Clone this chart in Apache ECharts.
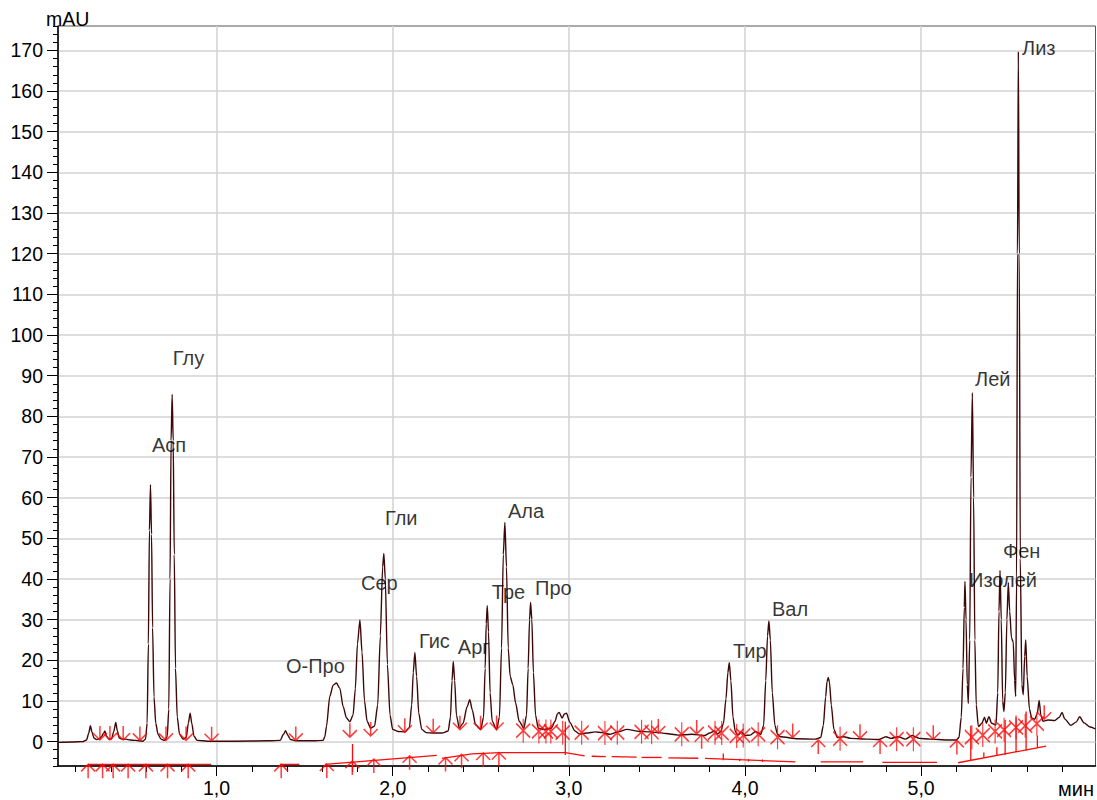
<!DOCTYPE html>
<html>
<head>
<meta charset="utf-8">
<script src="https://cdn.jsdelivr.net/npm/echarts@6/dist/echarts.min.js"></script>
<style>
  html, body { margin: 0; padding: 0; background: #fff; }
  #chart { width: 1097px; height: 800px; }
</style>
</head>
<body>
<div id="chart"></div>
<script>
// Детектор, мAU, по времени удерживания (мин)
const trace = [
  [0.10,-0.2],[0.18,-0.1],[0.24,0.0],[0.262,0.4],[0.274,2.0],[0.284,3.9],[0.293,2.3],[0.304,0.9],[0.318,0.5],
  [0.335,0.7],[0.347,1.2],[0.358,2.0],[0.366,2.6],[0.375,1.4],[0.388,0.6],
  [0.404,0.7],[0.416,2.4],[0.428,4.7],[0.437,2.6],[0.448,0.9],[0.465,0.6],[0.485,0.6],[0.51,0.4],[0.54,0.3],[0.58,0.1],
  [0.597,0.6],[0.606,4.5],[0.613,24],[0.619,52],[0.625,63.2],[0.631,51],[0.637,28],[0.645,11],[0.655,4.5],[0.668,1.8],[0.685,0.6],[0.705,0.3],
  [0.72,1.2],[0.729,8],[0.736,40],[0.742,74],[0.748,85.4],[0.754,74],[0.760,46],[0.767,18],[0.777,6],[0.79,1.8],[0.81,0.6],
  [0.828,1.0],[0.84,4.5],[0.85,7.0],[0.86,4.4],[0.872,1.3],[0.89,0.3],[0.95,0.1],[1.1,0.1],[1.3,0.2],
  [1.362,0.3],[1.38,1.8],[1.392,2.7],[1.405,1.5],[1.42,0.5],[1.45,0.2],[1.55,0.2],[1.605,0.3],
  [1.615,1.2],[1.624,3.7],[1.643,11.1],[1.662,13.9],[1.681,14.4],[1.70,13.1],[1.719,8.6],[1.738,5.8],[1.757,4.9],
  [1.775,6.5],[1.788,13],[1.80,24],[1.814,29.9],[1.826,22],[1.84,10],[1.855,5],[1.875,3.3],
  [1.897,3.8],[1.915,9],[1.93,26],[1.943,43],[1.95,46.3],[1.958,40],[1.97,19],[1.985,6.5],[2.0,3.0],[2.03,2.5],[2.07,2.4],[2.095,3.5],
  [2.108,9],[2.117,17],[2.126,21.9],[2.136,16],[2.148,7],[2.165,3],[2.19,2.2],[2.23,2.1],[2.28,2.1],[2.315,2.6],
  [2.328,6],[2.337,15],[2.344,19.7],[2.352,15],[2.362,6.5],[2.378,3.3],
  [2.40,4.5],[2.422,8.5],[2.438,10.3],[2.452,7.8],[2.47,4.2],[2.50,3.0],
  [2.516,6],[2.525,18],[2.531,29],[2.537,33.4],[2.544,27],[2.553,12],[2.565,5],[2.59,2.9],
  [2.606,6],[2.618,23],[2.628,46],[2.637,53.9],[2.646,43],[2.656,23],[2.667,16],[2.682,14],[2.698,9.5],[2.718,5],[2.745,3.3],
  [2.76,6.5],[2.769,18],[2.777,30],[2.783,34.2],[2.79,30],[2.799,17],[2.811,6.5],[2.826,3.3],[2.86,3.0],[2.90,3.3],
  [2.922,5],[2.935,6.8],[2.945,7.2],[2.962,5.8],[2.975,6.8],[2.987,7.0],[3.005,4.8],[3.035,2.6],[3.06,1.9],
  [3.10,2.1],[3.15,2.4],[3.19,2.2],[3.23,1.8],[3.28,2.4],[3.33,3.0],[3.40,2.5],[3.46,2.4],[3.55,2.0],[3.62,1.6],[3.70,1.8],[3.77,1.5],[3.80,2.1],[3.825,2.6],[3.845,1.9],[3.862,2.5],
  [3.878,4.5],[3.892,10.5],[3.903,17],[3.911,19.4],[3.92,15],[3.932,6],[3.945,2.5],[3.96,1.6],[3.98,2.4],[4.0,1.5],[4.03,1.6],[4.06,2.5],[4.09,1.8],
  [4.106,4],[4.118,15],[4.128,26],[4.136,29.7],[4.144,25],[4.155,12],[4.17,4],[4.185,1.8],[4.20,1.2],[4.30,0.7],[4.40,0.6],[4.43,1.0],
  [4.445,4],[4.458,11],[4.466,14.8],[4.473,15.8],[4.48,14.5],[4.49,9],[4.505,3],[4.525,1.0],[4.56,1.2],[4.60,0.8],[4.70,0.6],[4.76,0.5],[4.80,1.2],[4.83,0.8],[4.87,1.2],[4.91,0.6],[4.95,1.5],[4.99,0.8],[5.05,0.6],[5.15,0.4],[5.20,0.4],
  [5.215,1.0],[5.228,6],[5.238,18],[5.245,33],[5.249,39.4],[5.255,30],[5.262,14],[5.268,9.4],[5.276,25],[5.283,65],[5.291,85.8],[5.298,60],[5.305,25],[5.313,9],[5.325,3.7],
  [5.345,4.5],[5.36,6.0],[5.37,4.5],[5.385,6.1],[5.40,4.5],[5.425,4.1],[5.435,12],[5.442,32],[5.448,42.1],[5.455,30],[5.463,10],[5.47,7.4],
  [5.478,12],[5.487,30],[5.495,39.1],[5.503,32],[5.513,25.5],[5.523,24.5],[5.531,15],[5.537,11.1],
  [5.542,40],[5.547,120],[5.552,169.7],[5.557,120],[5.563,45],[5.572,14],[5.58,11.5],[5.588,21],[5.594,25],[5.602,16],[5.615,8],[5.628,5.8],
  [5.645,5.5],[5.66,7],[5.67,10.1],[5.68,6.5],[5.692,5.0],[5.72,5.3],[5.76,5.2],[5.785,6],[5.80,7.2],[5.815,5.6],[5.85,4.0],[5.88,4.8],[5.90,6.1],[5.925,4.6],[5.96,3.6],[5.99,3.1]
];

// Подписи пиков: название, время (мин) и уровень (мAU) начала подписи
const peakNames  = ['Асп','Глу','О-Про','Сер','Гли','Гис','Арг','Тре','Ала','Про','Тир','Вал','Изолей','Лей','Фен','Лиз'];
const labelTimes = [0.633,0.752,1.394,1.820,1.956,2.149,2.370,2.563,2.654,2.808,3.932,4.153,5.272,5.306,5.465,5.573];
const labelLevels= [72.9,94.3,18.6,39.0,55.0,24.7,23.3,36.8,56.6,37.8,22.3,32.6,39.7,89.1,46.9,170.7];

// Метки интегрирования на хроматограмме
const startEndMarks = [[0.338,0.4],[0.395,0.4],[0.47,0.4],[0.565,0.3],[0.713,0.3],[0.827,0.3],[0.972,0.2],[1.450,0.3],[1.757,1.1],[1.875,1.4],[2.069,2.3],[2.230,2.2],[2.382,2.9],[2.499,2.9],[2.590,3.0],[3.508,2.1],[3.726,1.9],[4.271,1.0],[4.653,0.8],[5.069,0.6],[5.699,5.5]];
const riseMarks = [[3.754,1.7],[4.416,0.4],[4.767,0.4],[5.203,0.3]];
const splitMarks = [[2.741,2.7],[2.830,2.5],[2.870,2.5],[2.898,2.5],[2.965,2.2],[3.073,2.2],[3.205,2.1],[3.275,2.2],[3.413,2.4],[3.470,2.3],[3.641,1.8],[3.830,2.2],[3.868,2.1],[3.953,1.4],[3.990,1.5],[4.075,1.8],[4.185,1.1],[4.540,0.7],[4.861,0.6],[4.956,0.6],[5.288,1.1],[5.35,1.6],[5.42,2.5],[5.471,2.9],[5.539,3.5],[5.591,3.9],[5.657,4.4]];
const baselineMarks = [[0.271,-5.6],[0.353,-5.6],[0.413,-5.6],[0.498,-5.6],[0.599,-5.6],[0.722,-5.6],[0.839,-5.6],[1.367,-5.6],[1.626,-5.5],[1.771,-4.8],[1.893,-4.3],[2.096,-3.5],[2.30,-3.9],[2.391,-3.1],[2.514,-2.8],[2.603,-2.7]];

// Базовые линии: [t1, y1, t2, y2]
const baselines = [
  [0.27,-5.6,0.97,-5.6],[1.36,-5.6,1.47,-5.6],[1.615,-5.6,2.25,-3.4],
  [2.28,-4.1,2.45,-3.0],[2.45,-3.0,2.61,-2.7],[2.61,-2.7,2.98,-2.7],[2.98,-2.7,3.09,-3.5],
  [3.13,-3.6,3.21,-3.7],[3.243,-3.7,3.385,-3.8],[3.413,-3.9,3.527,-3.9],[3.565,-4.0,3.735,-4.1],[3.773,-4.1,4.286,-5.0],
  [4.43,-5.0,4.67,-5.0],[4.78,-5.1,5.09,-5.1],[5.21,-5.2,5.71,-1.1]
];
// Вертикальные линии разделения: [t, от, до]
const dropLines = [[1.772,-7.5,-0.6],[2.98,-3.3,4.9],[3.877,-4.6,-2.9],[3.97,-4.8,-4.2],[4.02,-4.9,-4.3],[4.10,-5.0,-4.4],
  [5.282,-4.5,3.9],[5.356,-3.9,-2.7],[5.43,-3.5,-1.4],[5.477,-3.3,5.3],[5.539,-2.6,6.0],[5.596,-2.2,7.4],[5.66,-1.6,1.5]];

// Оси
const yMajorTicks = [0,10,20,30,40,50,60,70,80,90,100,110,120,130,140,150,160,170];
const xMajorTicks = [1,2,3,4,5];
const xMinorTicks = [0.2,0.4,0.6,0.8,1.0,1.2,1.4,1.6,1.8,2.0,2.2,2.4,2.6,2.8,3.0,3.2,3.4,3.6,3.8,4.0,4.2,4.4,4.6,4.8,5.0,5.2,5.4,5.6,5.8];

const RED = '#ff0a0a';
const INK = '#000';
const FONT = 'Liberation Sans, Arial, sans-serif';
const X_MIN = 0.1, X_MAX = 5.99, Y_MIN = -6, Y_MAX = 176;

const markStyle = { color: 'rgba(0,0,0,0)', borderColor: RED, borderWidth: 1.5 };
function markSeries(data, path, size, offset) {
  return {
    type: 'scatter', data, symbol: path, symbolSize: size, symbolOffset: offset,
    itemStyle: markStyle, silent: true, clip: false, z: 4, animation: false
  };
}

const chart = echarts.init(document.getElementById('chart'), null, { renderer: 'svg' });
chart.setOption({
  animation: false,
  backgroundColor: '#fff',
  grid: { left: 58, right: 1.5, top: 26, bottom: 34, show: true, borderColor: '#555', borderWidth: 1, backgroundColor: 'transparent' },
  xAxis: [{
    type: 'value', min: X_MIN, max: X_MAX,
    axisLine: { onZero: false, lineStyle: { color: INK, width: 1.5 } },
    axisTick: { customValues: xMajorTicks, length: 10, lineStyle: { color: INK, width: 1 } },
    axisLabel: { customValues: xMajorTicks, margin: 12, fontSize: 19.5, color: INK, fontFamily: FONT,
                 formatter: v => v.toFixed(1).replace('.', ',') },
    splitLine: { show: true, lineStyle: { color: '#d2d2d2', width: 1.5 } }
  }, {
    type: 'value', min: X_MIN, max: X_MAX, position: 'bottom',
    axisLine: { show: false, onZero: false },
    axisTick: { customValues: xMinorTicks, length: 6, lineStyle: { color: INK, width: 1 } },
    axisLabel: { show: false }, splitLine: { show: false }
  }],
  yAxis: [{
    type: 'value', min: Y_MIN, max: Y_MAX,
    axisLine: { onZero: false, lineStyle: { color: INK, width: 1.5 } },
    axisTick: { customValues: yMajorTicks, length: 11, lineStyle: { color: INK, width: 1 } },
    axisLabel: { customValues: yMajorTicks, margin: 15, fontSize: 19.5, color: INK, fontFamily: FONT },
    splitLine: { show: true, lineStyle: { color: '#d2d2d2', width: 1.5 } }
  }, {
    type: 'value', min: Y_MIN, max: Y_MAX, interval: 2, position: 'left',
    axisLine: { show: false, onZero: false },
    axisTick: { length: 5, lineStyle: { color: INK, width: 1 } },
    axisLabel: { show: false }, splitLine: { show: false }
  }],
  graphic: [
    { type: 'text', left: 46, top: 9, z: 10, style: { text: 'mAU', font: '19.5px ' + FONT, fill: INK } },
    { type: 'text', left: 1058, top: 779, z: 10, style: { text: 'мин', font: '20px ' + FONT, fill: INK } }
  ],
  series: [
    {
      type: 'custom', coordinateSystem: 'cartesian2d', silent: true, z: 3,
      data: baselines.concat(dropLines.map(d => [d[0], d[1], d[0], d[2]])),
      encode: { x: [0, 2], y: [1, 3] },
      renderItem: (params, api) => {
        const p1 = api.coord([api.value(0), api.value(1)]);
        const p2 = api.coord([api.value(2), api.value(3)]);
        return { type: 'line', shape: { x1: p1[0], y1: p1[1], x2: p2[0], y2: p2[1] },
                 style: { stroke: RED, lineWidth: 1.3 } };
      }
    },
    {
      type: 'line', data: trace, showSymbol: false, smooth: 0.25, smoothMonotone: 'x',
      lineStyle: { color: '#3e0808', width: 1.4 }, silent: true, z: 2
    },
    markSeries(startEndMarks, 'path://M7,0L7,14M0,7L7,14L14,7', [14, 14], [0, -7]),
    markSeries(riseMarks, 'path://M7,0L7,14M0,7L7,0L14,7', [14, 14], [0, 7]),
    markSeries(baselineMarks, 'path://M7,0L7,14M0,7L7,0L14,7', [14, 14], [0, 7]),
    markSeries(splitMarks, 'path://M7,0L7,24M0,5L7,12L14,5M0,19L7,12L14,19', [14, 24], [0, 0]),
    {
      type: 'scatter', symbolSize: 0, silent: true, z: 5,
      data: peakNames.map((n, i) => ({ name: n, value: [labelTimes[i], labelLevels[i]] })),
      label: { show: true, position: 'right', distance: 0, formatter: p => p.name,
               fontSize: 20, color: INK, fontFamily: FONT }
    }
  ]
});
</script>
</body>
</html>
